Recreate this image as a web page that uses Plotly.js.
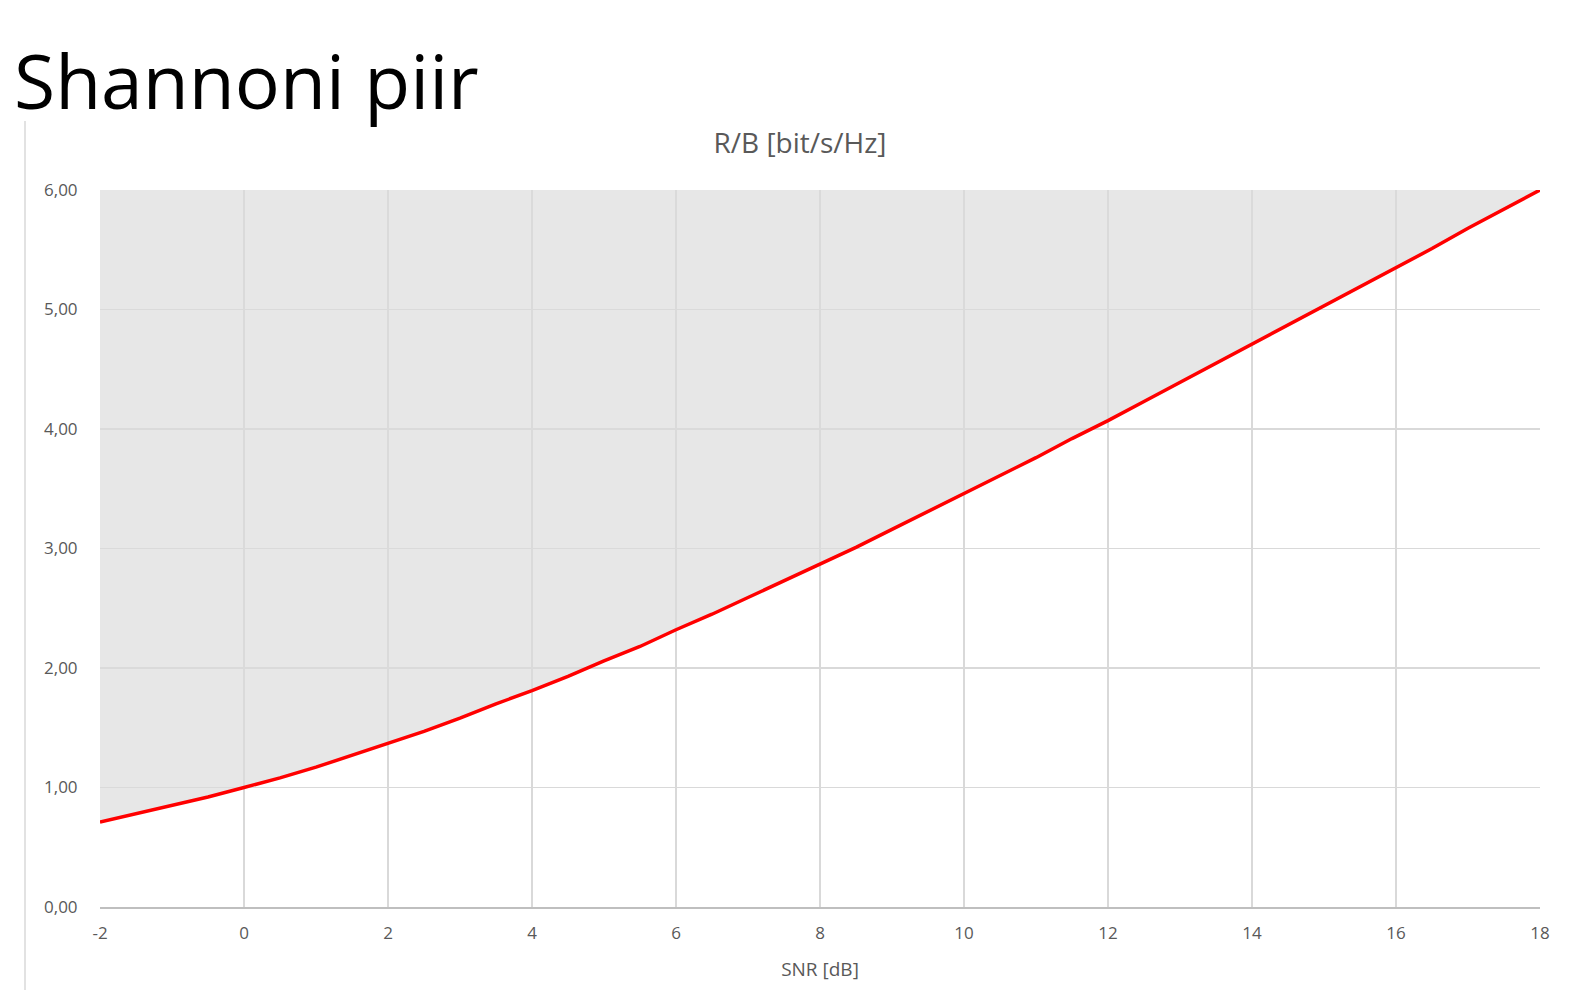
<!DOCTYPE html>
<html>
<head>
<meta charset="utf-8">
<script src="https://cdn.plot.ly/plotly-3.0.1.min.js"></script>
<style>
html,body{margin:0;padding:0;background:#fff;}
#chart{width:1576px;height:1002px;}
</style>
</head>
<body>
<div id="chart"></div>
<script>
// SNR [dB]
const snrDb = [-2,-1.5,-1,-0.5,0,0.5,1,1.5,2,2.5,3,3.5,4,4.5,5,5.5,6,6.5,7,7.5,8,8.5,9,9.5,10,10.5,11,11.5,12,12.5,13,13.5,14,14.5,15,15.5,16,16.5,17,17.5,18];
// R/B [bit/s/Hz]
const rateRB = [0.71,0.78,0.85,0.92,1.00,1.08,1.17,1.27,1.37,1.47,1.58,1.70,1.81,1.93,2.06,2.18,2.32,2.45,2.59,2.73,2.87,3.01,3.16,3.31,3.46,3.61,3.76,3.92,4.07,4.23,4.39,4.55,4.71,4.87,5.03,5.19,5.35,5.51,5.68,5.84,6.00];
// upper edge of the shaded region
const shadeTop = snrDb.map(() => 6);
const xTicks = [-2,0,2,4,6,8,10,12,14,16,18];
const yTicks = [0,1,2,3,4,5,6];

const grey = '#595959';
const L = 100, R = 1540, T = 190, B = 907;
const PW = R - L, PH = B - T;

const traces = [
  {x: snrDb, y: rateRB, type:'scatter', mode:'lines', line:{width:0, color:'rgba(0,0,0,0)'}, hoverinfo:'skip', showlegend:false},
  {x: snrDb, y: shadeTop, type:'scatter', mode:'lines', fill:'tonexty', fillcolor:'rgba(219,219,219,0.66)', line:{width:0, color:'rgba(0,0,0,0)'}, hoverinfo:'skip', showlegend:false},
  {x: snrDb, y: rateRB, type:'scatter', mode:'lines', line:{width:3.5, color:'#ff0000'}, showlegend:false}
];

const layout = {
  width:1576, height:1002,
  margin:{l:L, r:1576-R, t:T, b:1002-B},
  paper_bgcolor:'#ffffff', plot_bgcolor:'#ffffff',
  separators:', ',
  font:{family:'"Open Sans", "Noto Sans", sans-serif', color:grey},
  title:{text:'R/B [bit/s/Hz]', font:{size:28, color:grey, family:'"Open Sans", sans-serif'}, x:800/1576, xref:'container', xanchor:'center', y:1-143/1002, yref:'container', yanchor:'middle'},
  xaxis:{
    range:[-2,18], tickvals:xTicks, ticktext:xTicks.map(String),
    showgrid:true, gridcolor:'#d9d9d9', gridwidth:1.5,
    showline:true, linecolor:'#bfbfbf', linewidth:2,
    zeroline:false, ticks:'outside', ticklen:10, tickcolor:'rgba(0,0,0,0)',
    tickfont:{size:17, color:grey},
    title:{text:'SNR [dB]', font:{size:19, color:grey}, standoff:19}
  },
  yaxis:{
    range:[0,6], tickvals:yTicks, tickformat:'.2f',
    showgrid:true, gridcolor:'#d9d9d9', gridwidth:1.5,
    showline:false, zeroline:false,
    ticks:'outside', ticklen:18, tickcolor:'rgba(0,0,0,0)',
    tickfont:{size:17, color:grey}
  },
  shapes:[
    {type:'line', xref:'paper', yref:'paper', x0:(25-L)/PW, x1:(25-L)/PW, y0:(B-990)/PH, y1:(B-121)/PH, line:{color:'#d9d9d9', width:1.5}}
  ],
  annotations:[
    {text:'Shannoni piir', xref:'paper', yref:'paper', x:(12-L)/PW, y:(B-80)/PH, xanchor:'left', yanchor:'middle', showarrow:false, font:{size:75, color:'#000000', family:'"Open Sans", "Noto Sans", sans-serif'}}
  ]
};

Plotly.newPlot('chart', traces, layout, {displayModeBar:false, staticPlot:true});
</script>
</body>
</html>
